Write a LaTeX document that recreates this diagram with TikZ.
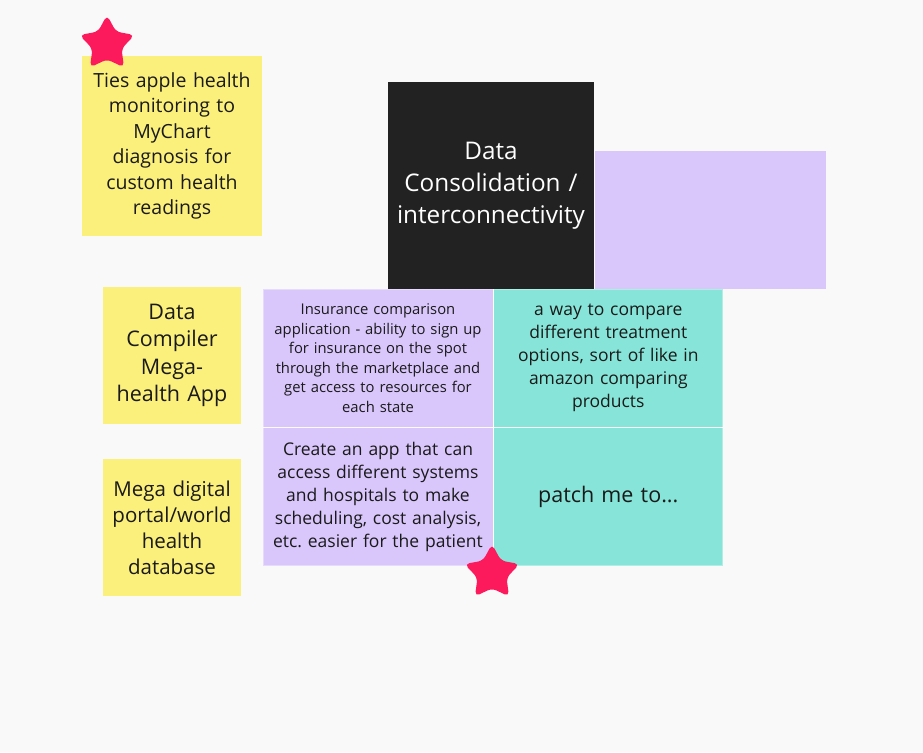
\documentclass[tikz,border=0pt]{standalone}
\usepackage{fontspec}
\setmainfont{Open Sans}
\usetikzlibrary{positioning,shapes.geometric}
\definecolor{boardbg}{HTML}{F9F9F9}
\definecolor{stickyyellow}{HTML}{FCF07C}
\definecolor{cellpurple}{HTML}{D9C7FC}
\definecolor{cellteal}{HTML}{86E5D8}
\definecolor{cardblack}{HTML}{222222}
\definecolor{inktext}{HTML}{1A1A1A}
\definecolor{starpink}{HTML}{FD1A5C}
\frenchspacing
\tikzset{x=1pt,y=-1pt,
  sticky/.style={fill=stickyyellow,inner sep=0pt,align=center,text=inktext,
    minimum width=138,minimum height=137,text width=134},
  darkcard/.style={fill=cardblack,inner sep=0pt,align=center,text=white,
    minimum width=206,minimum height=207,text width=202,
    font=\fontsize{24.3}{32}\selectfont},
  cell/.style={inner sep=0pt,align=center,text=inktext,
    minimum width=230,minimum height=138,text width=228,
    draw=white,draw opacity=.35,line width=.8pt},
  starmark/.style={star,star points=5,star point ratio=1.9,fill=starpink,
    rounded corners=5pt,minimum size=58,inner sep=0pt}}
\begin{document}
\begin{tikzpicture}
\fill[boardbg] (0,0) rectangle (923,752);
\useasboundingbox (0,0) rectangle (923,752);

% yellow notes on the left
\node[sticky,minimum width=180,minimum height=180,text width=178,
  font=\fontsize{19.5}{25.5}\selectfont] (applenote) at (172,146)
  {Ties apple health\\monitoring to\\MyChart\\diagnosis for\\custom health\\readings};
\node[sticky,font=\fontsize{21.5}{27.5}\selectfont] (compiler) at (172,355.5)
  {Data\\Compiler\\Mega-\\health App};
\node[sticky,font=\fontsize{20.5}{26}\selectfont] (portal) at (172,527.5)
  {Mega digital\\portal/world\\health\\database};

% header card
\node[darkcard] (consolidation) at (491,185.5)
  {Data\\Consolidation /\\interconnectivity};
\node[cell,fill=cellpurple,draw=none,minimum width=231,anchor=west] (blank)
  at (consolidation.east|-0,220) {};

% grid of ideas
\node[cell,fill=cellpurple,font=\fontsize{14.8}{19.5}\selectfont] (insurance) at (378,358)
  {Insurance comparison\\application - ability to sign up\\for insurance on the spot\\through the marketplace and\\get access to resources for\\each state};
\node[cell,fill=cellteal,minimum width=229,font=\fontsize{17.5}{23}\selectfont,
  right=0pt of insurance] (compare)
  {a way to compare\\different treatment\\options, sort of like in\\amazon comparing\\products};
\node[cell,fill=cellpurple,font=\fontsize{17.5}{23}\selectfont,
  below=0pt of insurance] (createapp)
  {Create an app that can\\access different systems\\and hospitals to make\\scheduling, cost analysis,\\etc. easier for the patient};
\node[cell,fill=cellteal,minimum width=229,font=\fontsize{21.5}{27}\selectfont,
  below=0pt of compare] (patch) {patch me to...};

% stars
\node[starmark] (topstar) at (107,44) {};
\node[starmark] (gridstar) at (492,573) {};
\end{tikzpicture}
\end{document}
